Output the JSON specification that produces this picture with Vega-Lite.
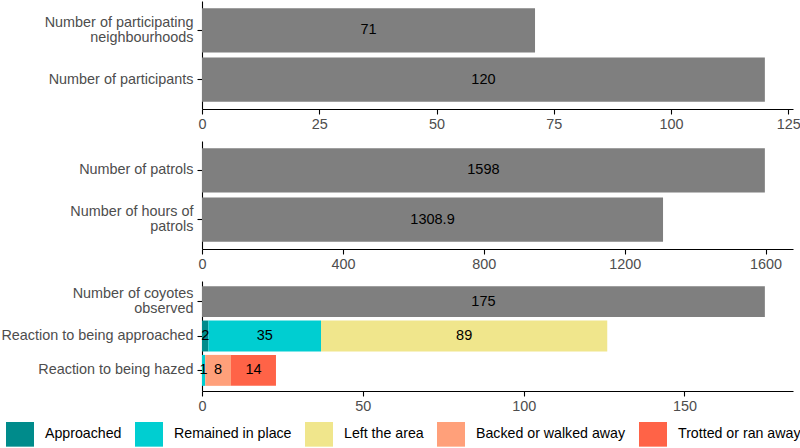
{
  "$schema": "https://vega.github.io/schema/vega-lite/v6.json",
  "background": "white",
  "padding": {"left": 0, "top": 1, "right": 0, "bottom": 0},
  "bounds": "flush",
  "spacing": 32,
  "datasets": {
    "participation": [
      {"measure": "Number of participating neighbourhoods", "value": 71},
      {"measure": "Number of participants", "value": 120}
    ],
    "patrols": [
      {"measure": "Number of patrols", "value": 1598},
      {"measure": "Number of hours of patrols", "value": 1308.9}
    ],
    "coyotes": [
      {"measure": "Number of coyotes observed", "value": 175}
    ],
    "reactions": [
      {"measure": "Reaction to being approached", "reaction": "Approached", "rank": 1, "value": 2},
      {"measure": "Reaction to being approached", "reaction": "Remained in place", "rank": 2, "value": 35},
      {"measure": "Reaction to being approached", "reaction": "Left the area", "rank": 3, "value": 89},
      {"measure": "Reaction to being hazed", "reaction": "Remained in place", "rank": 2, "value": 1},
      {"measure": "Reaction to being hazed", "reaction": "Backed or walked away", "rank": 4, "value": 8},
      {"measure": "Reaction to being hazed", "reaction": "Trotted or ran away", "rank": 5, "value": 14}
    ]
  },
  "config": {
    "view": {"stroke": null},
    "font": "Liberation Sans",
    "axis": {
      "domainColor": "black",
      "domainWidth": 1.1,
      "tickColor": "black",
      "tickWidth": 1.1,
      "tickSize": 5,
      "labelColor": "#4d4d4d",
      "labelFontSize": 14.4,
      "labelFont": "Liberation Sans",
      "grid": false,
      "title": null
    },
    "axisX": {"labelPadding": 3, "labelFlush": false, "format": "d"},
    "axisY": {"labelPadding": 4, "labelLimit": 400, "labelLineHeight": 15},
    "legend": {
      "orient": "none",
      "direction": "horizontal",
      "legendX": -196,
      "legendY": 419,
      "symbolType": "M-1,-0.88L1,-0.88L1,0.88L-1,0.88Z",
      "symbolSize": 784,
      "symbolStrokeWidth": 0,
      "symbolOpacity": 1,
      "labelFontSize": 14.2,
      "labelFont": "Liberation Sans",
      "labelColor": "black",
      "labelOffset": 11,
      "columnPadding": 13,
      "title": null
    }
  },
  "vconcat": [
    {
      "width": 591,
      "height": 108,
      "data": {"name": "participation"},
      "encoding": {
        "y": {
          "field": "measure", "type": "nominal",
          "sort": ["Number of participating neighbourhoods", "Number of participants"],
          "scale": {"paddingInner": 0.1, "paddingOuter": 0.15},
          "axis": {
            "labelExpr": "datum.value == 'Number of participating neighbourhoods' ? ['Number of participating', 'neighbourhoods'] : datum.value",
            "labelOffset": {"condition": {"test": "datum.value == 'Number of participating neighbourhoods'", "value": -7.5}, "value": 0}
          }
        }
      },
      "layer": [
        {
          "mark": {"type": "bar", "color": "#7f7f7f"},
          "encoding": {
            "x": {"field": "value", "type": "quantitative",
              "scale": {"domain": [0, 126], "nice": false},
              "axis": {"values": [0, 25, 50, 75, 100, 125]}}
          }
        },
        {
          "mark": {"type": "text", "fontSize": 14.5, "color": "black"},
          "encoding": {
            "x": {"field": "value", "type": "quantitative", "stack": "zero", "bandPosition": 0.5},
            "text": {"field": "value", "type": "quantitative"}
          }
        }
      ]
    },
    {
      "width": 591,
      "height": 108,
      "data": {"name": "patrols"},
      "encoding": {
        "y": {
          "field": "measure", "type": "nominal",
          "sort": ["Number of patrols", "Number of hours of patrols"],
          "scale": {"paddingInner": 0.1, "paddingOuter": 0.15},
          "axis": {
            "labelExpr": "datum.value == 'Number of hours of patrols' ? ['Number of hours of', 'patrols'] : datum.value",
            "labelOffset": {"condition": {"test": "datum.value == 'Number of hours of patrols'", "value": -7.5}, "value": 0}
          }
        }
      },
      "layer": [
        {
          "mark": {"type": "bar", "color": "#7f7f7f"},
          "encoding": {
            "x": {"field": "value", "type": "quantitative",
              "scale": {"domain": [0, 1677.9], "nice": false},
              "axis": {"values": [0, 400, 800, 1200, 1600]}}
          }
        },
        {
          "mark": {"type": "text", "fontSize": 14.5, "color": "black"},
          "encoding": {
            "x": {"field": "value", "type": "quantitative", "stack": "zero", "bandPosition": 0.5},
            "text": {"field": "value", "type": "quantitative"}
          }
        }
      ]
    },
    {
      "width": 591,
      "height": 110,
      "layer": [
        {
          "data": {"name": "coyotes"},
          "mark": {"type": "bar", "color": "#7f7f7f"},
          "encoding": {
            "y": {
              "field": "measure", "type": "nominal",
              "scale": {"domain": ["Number of coyotes observed", "Reaction to being approached", "Reaction to being hazed"], "paddingInner": 0.1, "paddingOuter": 0.15},
              "axis": {
                "labelExpr": "datum.value == 'Number of coyotes observed' ? ['Number of coyotes', 'observed'] : datum.value",
                "labelOffset": {"condition": {"test": "datum.value == 'Number of coyotes observed'", "value": -7.5}, "value": 0}
              }
            },
            "x": {"field": "value", "type": "quantitative",
              "scale": {"domain": [0, 183.75], "nice": false},
              "axis": {"values": [0, 50, 100, 150]}}
          }
        },
        {
          "data": {"name": "coyotes"},
          "mark": {"type": "text", "fontSize": 14.5, "color": "black"},
          "encoding": {
            "y": {"field": "measure", "type": "nominal"},
            "x": {"field": "value", "type": "quantitative", "stack": "zero", "bandPosition": 0.5},
            "text": {"field": "value", "type": "quantitative"}
          }
        },
        {
          "data": {"name": "reactions"},
          "mark": {"type": "bar"},
          "encoding": {
            "y": {"field": "measure", "type": "nominal"},
            "x": {"field": "value", "type": "quantitative", "stack": "zero"},
            "order": {"field": "rank", "type": "quantitative", "sort": "ascending"},
            "color": {
              "field": "reaction", "type": "nominal",
              "scale": {
                "domain": ["Approached", "Remained in place", "Left the area", "Backed or walked away", "Trotted or ran away"],
                "range": ["#008b8b", "#00ced1", "#f0e68c", "#ffa07a", "#ff6347"]
              }
            }
          }
        },
        {
          "data": {"name": "reactions"},
          "mark": {"type": "text", "fontSize": 14.5, "color": "black"},
          "encoding": {
            "y": {"field": "measure", "type": "nominal"},
            "x": {"field": "value", "type": "quantitative", "stack": "zero", "bandPosition": 0.5},
            "detail": {"field": "reaction", "type": "nominal"},
            "order": {"field": "rank", "type": "quantitative", "sort": "ascending"},
            "text": {"field": "value", "type": "quantitative"}
          }
        }
      ]
    }
  ]
}
